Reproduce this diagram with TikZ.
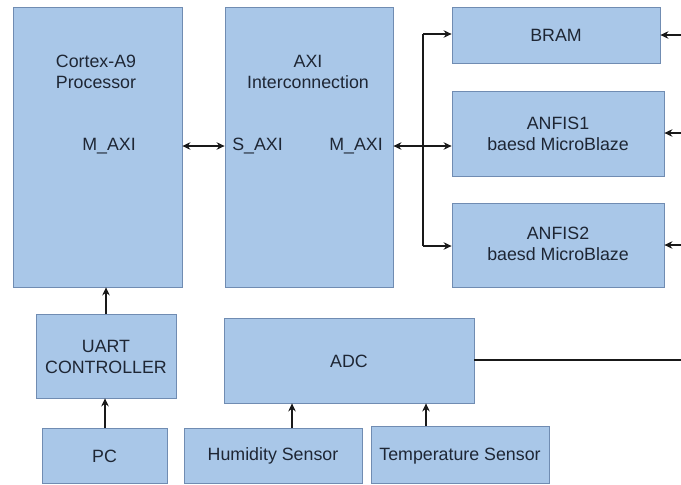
\documentclass[tikz,border=0pt]{standalone}
\usepackage{fontspec}
\setmainfont{Liberation Sans}
\usetikzlibrary{arrows.meta}
\definecolor{boxfill}{RGB}{169,199,232}
\definecolor{boxline}{RGB}{112,140,178}
\definecolor{txt}{RGB}{30,38,52}
\begin{document}
\begin{tikzpicture}[x=1pt,y=-1pt,
  box/.style={draw=boxline,fill=boxfill,line width=0.8pt,rectangle,inner sep=0pt},
  lbl/.style={text=txt,font=\fontsize{17.8}{21}\selectfont,align=center,inner sep=0pt},
  conn/.style={line width=1.3pt,draw=black!90},
  tip/.style={-{Stealth[length=8pt,width=7.5pt]}},
  tips/.style={{Stealth[length=8pt,width=7.5pt]}-{Stealth[length=8pt,width=7.5pt]}}
]
\useasboundingbox (0,0) rectangle (681,485);
\fill[white] (0,0) rectangle (681,485);
% boxes
\node[box,minimum width=169pt,minimum height=280pt] (cpu) at (97.5,147) {};
\node[box,minimum width=168pt,minimum height=280pt] (axi) at (309,147) {};
\node[box,minimum width=208pt,minimum height=56pt] (bram) at (556,35) {};
\node[box,minimum width=212pt,minimum height=85pt] (anfis1) at (558,133.5) {};
\node[box,minimum width=212pt,minimum height=84pt] (anfis2) at (558,245) {};
\node[box,minimum width=140pt,minimum height=84pt] (uart) at (106,356) {};
\node[box,minimum width=125pt,minimum height=55pt] (pc) at (104.5,455.5) {};
\node[box,minimum width=250pt,minimum height=85pt] (adc) at (349,360.5) {};
\node[box,minimum width=178pt,minimum height=55pt] (hum) at (273,455.5) {};
\node[box,minimum width=178pt,minimum height=57pt] (temp) at (460,454.5) {};
% texts
\node[lbl] (cpuT) at (96,72) {Cortex-A9\\Processor};
\node[lbl] (cpuM) at (109,146) {M\_AXI};
\node[lbl] (axiT) at (308,72) {AXI\\Interconnection};
\node[lbl] (axiS) at (257.5,146) {S\_AXI};
\node[lbl] (axiM) at (356,146) {M\_AXI};
\node[lbl] (bramT) at (556,35) {BRAM};
\node[lbl] (a1T) at (558,134) {ANFIS1\\baesd MicroBlaze};
\node[lbl] (a2T) at (558,244) {ANFIS2\\baesd MicroBlaze};
\node[lbl] (uartT) at (106,356.5) {UART\\CONTROLLER};
\node[lbl] (pcT) at (104.5,456) {PC};
\node[lbl] (adcT) at (349,361) {ADC};
\node[lbl] (humT) at (273,456) {Humidity Sensor};
\node[lbl] (tempT) at (460,456) {Temperature Sensor};
% free ends and junctions
\coordinate (bus) at (423,146);
\coordinate (busT) at (423,34);
\coordinate (busB) at (423,246);
\coordinate (r1) at (681,35);
\coordinate (r2) at (681,133);
\coordinate (r3) at (681,245);
\coordinate (r4) at (681,360);
% connectors
\draw[conn,tips] (cpu.east |- 0,146) -- (axi.west |- 0,146);
\draw[conn,tip] (bus) -- (axi.east |- bus);
\draw[conn,tip] (bus) -- (anfis1.west |- bus);
\draw[conn,tip] (busT) |- (bram.west |- busT) ;
\draw[conn] (busT) -- (busB);
\draw[conn,tip] (busB) -- (anfis2.west |- busB);
\draw[conn,tip] (r1) -- (bram.east |- r1);
\draw[conn,tip] (r2) -- (anfis1.east |- r2);
\draw[conn,tip] (r3) -- (anfis2.east |- r3);
\draw[conn] (adc.east |- r4) -- (r4);
\draw[conn,tip] (uart.north) -- (cpu.south -| uart.north);
\draw[conn,tip] (pc.north -| 105,0) -- (uart.south -| 105,0);
\draw[conn,tip] (hum.north -| 292,0) -- (adc.south -| 292,0);
\draw[conn,tip] (temp.north -| 426,0) -- (adc.south -| 426,0);
\end{tikzpicture}
\end{document}
